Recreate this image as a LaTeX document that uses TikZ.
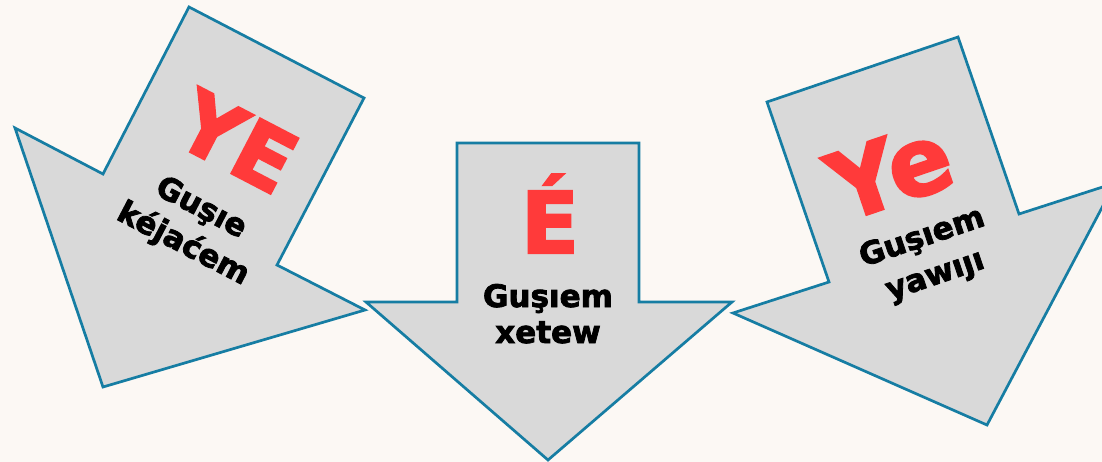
\documentclass[tikz,border=0pt]{standalone}
\usepackage{fontspec}
\setmainfont{DejaVu Sans}[BoldFeatures={FakeBold=2.5}]
\definecolor{bgc}{RGB}{252,248,244}
\definecolor{arrowfill}{RGB}{217,217,217}
\definecolor{arrowline}{RGB}{22,125,163}
\definecolor{bigred}{RGB}{255,58,58}
\tikzset{
  bigarrow/.style={fill=arrowfill, draw=arrowline, line width=2.7pt, line join=miter},
  bigletter/.style={inner sep=0pt, anchor=base, text=bigred, font=\bfseries\fontsize{85}{85}\selectfont},
  caption/.style={inner sep=0pt, anchor=base, text=black, font=\bfseries\fontsize{31}{31}\selectfont},
}
\begin{document}
\begin{tikzpicture}[x=1pt,y=-1pt]
\useasboundingbox (0,0) rectangle (1102,462);
\fill[bgc] (0,0) rectangle (1102,462);
\clip (0,0) rectangle (1102,462);
% left arrow
\draw[bigarrow] (189,7) -- (364,98) -- (277,265) -- (365,310) -- (103,387) -- (15,128) -- (103,174) -- cycle;
% middle arrow
\draw[bigarrow] (457,143) -- (639,143) -- (639,302) -- (732,302) -- (548,460) -- (366,302) -- (457,302) -- cycle;
% right arrow
\draw[bigarrow] (767,102) -- (958,37) -- (1019,214) -- (1115,183) -- (987,425) -- (733,313) -- (829,282) -- cycle;
% left labels
\node[bigletter, rotate=-27.5] (lbig) at (223,169) {YE};
\node[caption, rotate=-27.5] (l1) at (197,216) {Guşıe};
\node[caption, rotate=-27.5] (l2) at (179,252) {kéjaćem};
% middle labels
\node[bigletter] (mbig) at (550,253) {É};
\node[caption] (m1) at (548,307) {Guşıem};
\node[caption] (m2) at (548,343) {xetew};
% right labels
\node[bigletter, rotate=18.8, font=\bfseries\fontsize{94}{94}\selectfont] (rbig) at (901,203) {Ye};
\node[caption, rotate=18.8] (r1) at (925,246) {Guşıem};
\node[caption, rotate=18.8] (r2) at (938,284) {yawıȷı};
\end{tikzpicture}
\end{document}
